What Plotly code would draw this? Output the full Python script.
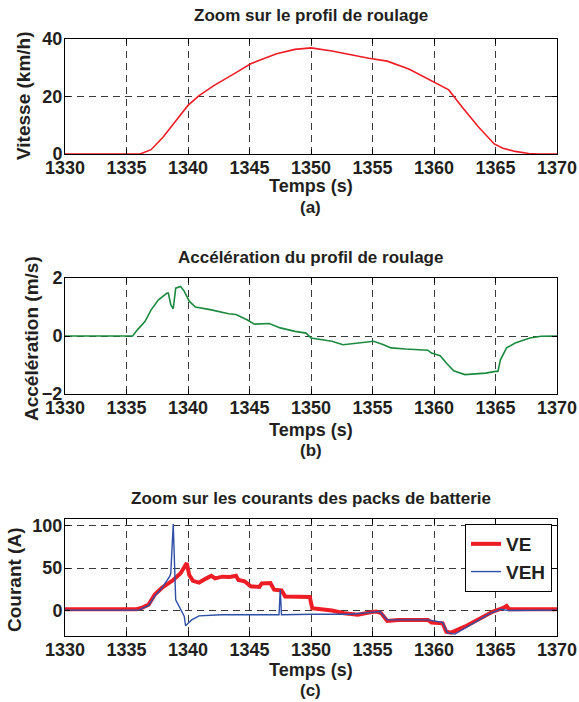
import plotly.graph_objects as go

# ---------------- data ----------------
t_speed = [1330, 1336.1, 1337.0, 1338.0, 1339.0, 1340.0, 1340.9, 1342.1, 1343.9, 1345.1,
           1347.2, 1348.7, 1350.0, 1351.7, 1354.7, 1356.2, 1358.0, 1360.0, 1361.2, 1362.3,
           1363.6, 1364.9, 1365.6, 1366.6, 1367.7, 1368.5, 1370]
speed = [0, 0, 1.5, 6, 11.5, 16.9, 20.3, 23.8, 28.3, 31.4,
         34.9, 36.4, 36.9, 35.8, 33.3, 32.3, 29.5, 25.1, 22.3, 16.3,
         9.5, 3.5, 2.0, 0.9, 0.2, 0, 0]

t_acc = [1330, 1335.5, 1335.9, 1336.5, 1337.0, 1337.6, 1338.3, 1338.4, 1338.6, 1338.8,
         1339.0, 1339.4, 1339.7, 1340.1, 1340.6, 1341.8, 1343.3, 1343.9, 1344.8, 1345.4,
         1346.6, 1347.5, 1348.7, 1349.6, 1350.0, 1350.8, 1351.7, 1352.6, 1353.5, 1354.7,
         1355.1, 1355.9, 1356.5, 1357.7, 1359.5, 1359.8, 1360.5, 1361.0, 1361.6, 1362.5,
         1363.3, 1364.2, 1365.0, 1365.2, 1365.4, 1365.9, 1366.6, 1367.8, 1368.7, 1370]
acc = [0, 0, 0.22, 0.5, 0.9, 1.25, 1.48, 1.48, 1.08, 0.94,
       1.65, 1.71, 1.54, 1.2, 1.0, 0.91, 0.77, 0.74, 0.56, 0.41,
       0.43, 0.28, 0.16, 0.1, -0.07, -0.13, -0.18, -0.3, -0.26, -0.22,
       -0.18, -0.3, -0.41, -0.45, -0.49, -0.59, -0.68, -0.93, -1.2, -1.33,
       -1.31, -1.28, -1.22, -1.22, -0.82, -0.41, -0.24, -0.07, -0.01, 0]

t_ve = [1330, 1335.8, 1336.2, 1336.8, 1337.3, 1337.9, 1338.8, 1339.4, 1339.9, 1340.1,
        1340.4, 1340.9, 1341.5, 1341.9, 1342.2, 1342.8, 1343.4, 1343.9, 1344.1, 1344.6,
        1345.1, 1345.8, 1346.0, 1346.7, 1347.0, 1347.6, 1347.9, 1349.9, 1350.1, 1351.7,
        1352.7, 1353.8, 1354.7, 1355.3, 1355.7, 1356.2, 1357.1, 1359.5, 1359.8, 1360.7,
        1361.0, 1361.4, 1362.5, 1363.6, 1364.8, 1365.7, 1365.9, 1366.1, 1370]
ve = [1.5, 1.5, 3, 7, 19, 27, 36, 44, 56, 42,
      35, 33, 38, 41, 38, 40, 39.7, 41, 36, 34.5,
      28.6, 27.8, 32, 32.5, 24.6, 23.8, 16.7, 15.9, 2.8, 0,
      -3.2, -5, -2.4, -1.2, -3, -12.3, -11, -11, -14, -15,
      -25, -26, -19, -10, -1.2, 3.6, 5.5, 1.5, 1.5]

t_veh = [1330, 1336.0, 1336.8, 1337.3, 1337.9, 1338.5, 1338.6, 1338.8, 1339.0, 1339.3,
         1339.7, 1339.8, 1340.3, 1340.9, 1342.7, 1345.7, 1347.4, 1347.5, 1347.6, 1350.2,
         1353.2, 1354.7, 1355.6, 1356.2, 1359.5, 1360.7, 1361.1, 1361.7, 1363.0, 1364.5,
         1365.4, 1366.1, 1370]
veh = [0.5, 0.5, 6, 17, 27, 40, 44, 102, 12.7, 4.8,
       -7, -17.9, -11, -6.3, -5, -5, -5, 24.6, -5, -4.4,
       -4.4, -2.4, -1.2, -11, -11, -14, -26, -27.8, -17, -4,
       1.6, 0, 0.5]

x_ticks = [1330, 1335, 1340, 1345, 1350, 1355, 1360, 1365, 1370]
speed_ticks = [0, 20, 40]
acc_ticks = [-2, 0, 2]
cur_ticks = [0, 50, 100]

# ---------------- layout geometry ----------------
W, H = 579, 702
xl, xr = 65, 557
boxes = {"top": (39, 154), "mid": (278, 394), "bot": (519, 636)}


def ydom(b):
    return [1 - b[1] / H, 1 - b[0] / H]


FONT = "Liberation Sans, Arial, sans-serif"
TXT = "#231f20"
GRID = "#3a3a3a"

fig = go.Figure()
fig.add_trace(go.Scatter(x=t_speed, y=speed, mode="lines", line=dict(color="#ee1c25", width=1.6),
                         xaxis="x", yaxis="y", showlegend=False))
fig.add_trace(go.Scatter(x=t_acc, y=acc, mode="lines", line=dict(color="#1b8a3e", width=1.6),
                         xaxis="x2", yaxis="y2", showlegend=False))
fig.add_trace(go.Scatter(x=t_ve, y=ve, mode="lines", name="VE", line=dict(color="#ee1c25", width=4),
                         xaxis="x3", yaxis="y3"))
fig.add_trace(go.Scatter(x=t_veh, y=veh, mode="lines", name="VEH", line=dict(color="#2e4fa8", width=1.4),
                         xaxis="x3", yaxis="y3"))

common_ax = dict(showline=True, linecolor="black", linewidth=1, mirror="allticks",
                 ticks="inside", ticklen=5, tickcolor="black",
                 showgrid=True, gridcolor=GRID, griddash="7px,5px", gridwidth=1,
                 zeroline=False, automargin=False,
                 tickfont=dict(family=FONT, size=18, color=TXT, weight="bold"))

xdom = [xl / W, xr / W]
for i, (key, yt, yr) in enumerate([("top", speed_ticks, [0, 40]),
                                    ("mid", acc_ticks, [-2, 2]),
                                    ("bot", cur_ticks, [-30, 108])]):
    sfx = "" if i == 0 else str(i + 1)
    fig.layout["xaxis" + sfx] = dict(common_ax, domain=xdom, range=[1330, 1370],
                                     tickvals=x_ticks, anchor="y" + sfx, ticklabelstandoff=-3)
    fig.layout["yaxis" + sfx] = dict(common_ax, domain=ydom(boxes[key]), range=yr,
                                     tickvals=yt, anchor="x" + sfx, ticklabelstandoff=-2)


def ann(text, x_px, y_px, size=17, angle=0):
    return dict(text=text, x=x_px / W, y=1 - y_px / H, xref="paper", yref="paper",
                xanchor="center", yanchor="middle", showarrow=False, textangle=angle,
                font=dict(family=FONT, size=size, color=TXT, weight="bold"))


mx = (xl + xr) / 2
annotations = [
    ann("Zoom sur le profil de roulage", mx, 15),
    ann("Temps (s)", mx, 186, 18),
    ann("(a)", mx, 207),
    ann("Vitesse (km/h)", 24, 96, 19, -90),
    ann("Accélération du profil de roulage", mx, 257),
    ann("Temps (s)", mx, 430, 18),
    ann("(b)", mx, 450),
    ann("Accélération (m/s)", 31, 339, 19, -90),
    ann("Zoom sur les courants des packs de batterie", mx, 498),
    ann("Temps (s)", mx, 670, 18),
    ann("(c)", mx, 690),
    ann("Courant (A)", 14, 580, 19, -90),
]

fig.update_layout(
    width=W, height=H,
    margin=dict(l=0, r=0, t=0, b=0),
    paper_bgcolor="white", plot_bgcolor="white",
    font=dict(family=FONT, color=TXT),
    annotations=annotations,
    showlegend=True,
    hovermode=False,
    legend=dict(x=552 / W, y=1 - 524 / H, xanchor="right", yanchor="top",
                bgcolor="white", bordercolor="black", borderwidth=1,
                font=dict(family=FONT, size=19, color=TXT, weight="bold"),
                tracegroupgap=0, itemwidth=30),
)

fig.write_html("out.html", config={"displayModeBar": False, "staticPlot": True},
               post_script="document.body.style.margin='0';document.body.style.overflow='hidden';")
